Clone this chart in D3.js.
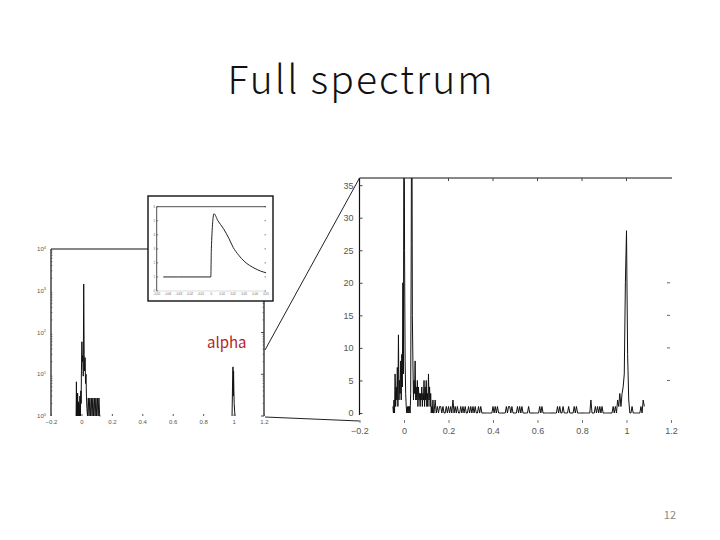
<!DOCTYPE html>
<html><head><meta charset="utf-8">
<script src="https://cdn.jsdelivr.net/npm/d3@7"></script>
<style>body{margin:0;background:#fff}svg{display:block}</style>
</head><body><svg id="c" width="720" height="540"></svg>
<script>
// ---------- data ----------
const titleText = "Full spectrum";
const pageNumber = "12";
const annotation = "alpha";

// right panel: linear magnitude spectrum
const specFreq = [-0.05,-0.0475,-0.045,-0.0425,-0.04,-0.0375,-0.035,-0.0325,-0.03,-0.0275,
-0.025,-0.0225,-0.02,-0.0175,-0.015,-0.0125,-0.01,-0.0075,-0.005,-0.0025,
0,0.0025,0.005,0.0075,0.01,0.0125,0.015,0.0175,0.02,0.0225,0.025,0.0275,0.03,0.0325,0.035,0.0375,
0.04,0.0425,0.045,0.0475,0.05,0.0525,0.055,0.0575,0.06,0.0625,0.065,0.0675,0.07,0.0725,0.075,0.0775,
0.08,0.0825,0.085,0.0875,0.09,0.0925,0.095,0.0975,0.1,0.1025,0.105,0.1075,0.11,0.1125,0.115,0.1175,
0.12,0.1225,0.125,0.1275,0.13,0.1325,
0.135,0.14,0.145,0.15,0.155,0.16,0.165,0.17,0.175,0.18,0.185,0.19,0.195,
0.2,0.205,0.21,0.215,0.22,0.225,0.23,0.235,0.24,0.245,0.25,0.255,0.26,0.265,0.27,0.275,0.28,0.285,0.29,0.295,
0.3,0.305,0.31,0.315,0.32,0.325,0.33,0.335,0.34,0.345,0.35,0.355,0.36,0.365,0.37,0.375,0.38,0.385,0.39,0.395,
0.4,0.405,0.41,0.415,0.42,0.425,0.43,0.435,0.44,0.445,0.45,0.455,0.46,0.465,0.47,0.475,0.48,0.485,0.49,0.495,
0.5,0.505,0.51,0.515,0.52,0.525,0.53,0.535,0.54,0.545,0.55,0.555,0.56,0.565,0.57,0.575,0.58,0.585,0.59,0.595,
0.6,0.605,0.61,0.615,0.62,0.625,0.63,0.635,0.64,0.645,0.65,0.655,0.66,0.665,0.67,0.675,0.68,0.685,0.69,0.695,
0.7,0.705,0.71,0.715,0.72,0.725,0.73,0.735,0.74,0.745,0.75,0.755,0.76,0.765,0.77,0.775,0.78,0.785,0.79,0.795,
0.8,0.805,0.81,0.815,0.82,0.825,0.83,0.835,0.84,0.845,0.85,0.855,0.86,0.865,0.87,0.875,0.88,0.885,0.89,0.895,
0.9,0.905,0.91,0.915,0.92,0.925,0.93,0.935,0.94,0.945,0.95,0.955,0.96,0.965,0.97,0.975,0.98,0.985,0.99,0.995,
1,1.005,1.01,1.015,1.02,1.025,1.03,1.035,1.04,1.045,1.05,1.055,1.06,1.065,1.07,1.075,1.08];
const specMag = [1,0,2,0,6,1,4,2,7,1,
12,2,5,3,8,2,9,4,20,6,
60,25,8,3,1,0,1,0,1,0,1,0,3,26,60,15,
8,2,5,3,8,2,4,2,5,1,4,2,3,1,3,2,
4,1,3,2,5,1,4,2,5,1,3,1,6,2,4,1,
3,0,1,0,2,0,
0,2,0,1,0,1,1,0,1,0,0,1,0,
1,0,1,0,2,0,1,0,1,0,0,1,0,1,0,1,0,0,1,0,
1,0,1,0,1,0,0,1,0,1,0,0,0,0,0,0,0,0,0,0,
1,0,1,0,1,0,0,0,0,0,0,0,1,0,1,1,0,1,0,0,
0,0,1,0,1,0,1,0,0,0,0,0,1,0,0,0,0,0,0,0,
0,0,1,0,1,0,0,0,0,0,0,0,0,0,0,0,0,0,1,0,
1,0,0,1,0,0,0,0,1,0,0,0,0,1,0,1,0,0,0,0,
0,0,0,0,0,0,0,0,2,0,0,0,1,0,1,0,1,0,1,0,
0,0,0,0,0,0,0,0,1,0,1,0,2,1,3,1,3,4,6,20,
28,9,2,0,0,1,0,0,0,0,0,0,0,1,0,2,1];
const rightYTicks = [0,5,10,15,20,25,30,35];
const xTicks = [-0.2,0,0.2,0.4,0.6,0.8,1,1.2];

// left panel: log magnitude (null = below axis / not drawn)
const logFreq = [-0.035,-0.033,-0.031,-0.029,-0.027,-0.025,-0.023,-0.021,-0.019,-0.016,-0.013,-0.01,-0.007,-0.004,-0.002,
0,0.003,0.006,0.009,0.012,0.015,0.018,0.021,0.024,0.027,0.03,0.033,0.036,0.04,0.045,0.05,0.055,0.06,0.065,0.07,
0.075,0.08,0.085,0.09,0.095,0.1,0.105,0.11,0.115,0.12,0.125,0.5,
0.99,0.993,0.996,0.998,1,1.002,1.004,1.007,1.01];
const logMag = [1,6.6,1,3.5,1,3.5,1,2.2,1,2,1,3,1,4,2,
12,60,20,28,9,1450,30,12,25,6,10,3,1.5,1,2.7,1,2.7,1,2.7,1,
2.7,1,2.7,1,2.7,1,2.7,1,2.7,1,1,null,
1,5,15,3,12,4,2,1.3,1];
const logYTicks = [1,10,100,1000,10000];
const logYExp = ["0","1","2","3","4"];

// inset: transition detail
const insetFreq = [-0.044,-0.03,-0.015,-0.0005,0.0,0.0024,0.006,0.011,0.016,0.02,0.025,0.03,0.035,0.04,0.045,0.05];
const insetMag = [1,1,1,1,3,5.5,5.0,4.45,3.75,3.1,2.55,2.12,1.82,1.6,1.42,1.3];
const insetXTicks = [-0.05,-0.04,-0.03,-0.02,-0.01,0,0.01,0.02,0.03,0.04,0.05];
const insetYTicks = [0,1,2,3,4,5,6];

// ---------- drawing ----------
const svg = d3.select("#c");
const tickFont = "Liberation Sans, Arial, sans-serif";
const tickCol = "#555";

const title = svg.append("text").attr("x",360).attr("y",94).attr("text-anchor","middle")
  .attr("font-family","'Noto Sans CJK KR','Open Sans',sans-serif").attr("font-weight",300)
  .attr("font-size",39).attr("fill","#111").text(titleText);
// stretch letter spacing so the title spans the reference width
{
  const w = title.node().getComputedTextLength();
  const ls = (265 - w) / (titleText.length - 1);
  title.attr("letter-spacing", ls);
  title.attr("x", 360 + ls / 2);
}

// ===== right panel =====
const xR = d3.scaleLinear().domain([-0.2,1.2]).range([359.5,671]);
const yR = d3.scaleLinear().domain([0,36.1]).range([413,178]);
const gR = svg.append("g");
gR.append("clipPath").attr("id","clipR").append("rect")
  .attr("x",xR(-0.2)).attr("y",yR(36.1)).attr("width",xR(1.2)-xR(-0.2)).attr("height",yR(0)-yR(36.1)+2);
gR.append("path").datum(specFreq.map((f,i)=>[f,specMag[i]]))
  .attr("clip-path","url(#clipR)")
  .attr("d",d3.line().x(d=>xR(d[0])).y(d=>yR(d[1])))
  .attr("fill","none").attr("stroke","#111").attr("stroke-width",1);
gR.append("line").attr("x1",xR(-0.2)).attr("x2",xR(-0.2)).attr("y1",yR(36.1)).attr("y2",yR(0)+2).attr("stroke","#111").attr("stroke-width",1.2);
gR.append("line").attr("x1",xR(-0.2)).attr("x2",xR(1.2)+1).attr("y1",yR(36.1)).attr("y2",yR(36.1)).attr("stroke","#111").attr("stroke-width",1.2);
const yAxR = d3.axisLeft(yR).tickValues(rightYTicks).tickSize(-3).tickPadding(6);
const gya = gR.append("g").attr("transform",`translate(${xR(-0.2)},0)`).call(yAxR);
gya.select(".domain").remove();
gya.selectAll("line").attr("stroke","#444");
gya.selectAll("text").attr("font-family",tickFont).attr("font-size",9).attr("fill",tickCol);
gR.selectAll(".rt").data(rightYTicks.filter(v=>v>0 && v<=20)).enter().append("line")
  .attr("x1",xR(1.2)-4).attr("x2",xR(1.2)-1).attr("y1",d=>yR(d)).attr("y2",d=>yR(d))
  .attr("stroke","#666");
const xAxR = d3.axisBottom(xR).tickValues(xTicks).tickSize(3).tickPadding(5).tickFormat(d3.format("~g"));
const gxa = gR.append("g").attr("transform",`translate(0,${yR(0)+7})`).call(xAxR);
gxa.select(".domain").remove();
gxa.selectAll("line").attr("stroke","#777");
gxa.selectAll("text").attr("font-family",tickFont).attr("font-size",9).attr("fill",tickCol);
gR.selectAll(".tt").data(xTicks.slice(1,-1)).enter().append("line")
  .attr("x1",d=>xR(d)).attr("x2",d=>xR(d)).attr("y1",yR(36.1)).attr("y2",yR(36.1)+3).attr("stroke","#444");

// ===== left panel (log) =====
const xL = d3.scaleLinear().domain([-0.2,1.2]).range([51,264]);
const yL = d3.scaleLog().domain([1,1e4]).range([416,249]);
const gL = svg.append("g");
gL.append("path").datum(logFreq.map((f,i)=>[f,logMag[i]]))
  .attr("d",d3.line().defined(d=>d[1]!==null).x(d=>xL(d[0])).y(d=>yL(d[1])))
  .attr("fill","none").attr("stroke","#111").attr("stroke-width",1);
gL.append("line").attr("x1",xL(-0.2)).attr("x2",xL(-0.2)).attr("y1",yL(1e4)).attr("y2",yL(1)).attr("stroke","#111").attr("stroke-width",1.2);
gL.append("line").attr("x1",xL(-0.2)).attr("x2",xL(1.2)).attr("y1",yL(1e4)).attr("y2",yL(1e4)).attr("stroke","#111").attr("stroke-width",1.2);
gL.append("line").attr("x1",xL(1.2)).attr("x2",xL(1.2)).attr("y1",yL(1e4)).attr("y2",yL(1)).attr("stroke","#111").attr("stroke-width",1.2);
const minor = [];
for (let e=0;e<4;e++) for (let m=2;m<10;m++) minor.push(m*Math.pow(10,e));
gL.selectAll(".mnl").data(minor).enter().append("line")
  .attr("x1",xL(-0.2)).attr("x2",xL(-0.2)+1.5).attr("y1",d=>yL(d)).attr("y2",d=>yL(d)).attr("stroke","#444").attr("stroke-width",0.6);
gL.selectAll(".mnr").data(minor).enter().append("line")
  .attr("x1",xL(1.2)-1.5).attr("x2",xL(1.2)).attr("y1",d=>yL(d)).attr("y2",d=>yL(d)).attr("stroke","#444").attr("stroke-width",0.6);
gL.selectAll(".mjr").data(logYTicks).enter().append("line")
  .attr("x1",xL(1.2)-3).attr("x2",xL(1.2)).attr("y1",d=>yL(d)).attr("y2",d=>yL(d)).attr("stroke","#444");
const ylab = gL.selectAll(".yl").data(logYTicks).enter().append("text")
  .attr("x",xL(-0.2)-5).attr("y",d=>yL(d)+2).attr("text-anchor","end")
  .attr("font-family",tickFont).attr("font-size",6).attr("fill",tickCol);
ylab.append("tspan").text("10");
ylab.append("tspan").attr("dy",-2.5).attr("font-size",4).text((d,i)=>logYExp[i]);
const xAxL = d3.axisBottom(xL).tickValues(xTicks).tickSize(-2).tickPadding(4).tickFormat(d3.format("~g"));
const gxl = gL.append("g").attr("transform",`translate(0,${yL(1)})`).call(xAxL);
gxl.select(".domain").remove();
gxl.selectAll("line").attr("stroke","#555");
gxl.selectAll("text").attr("font-family",tickFont).attr("font-size",6).attr("fill",tickCol);

// zoom connector lines
svg.append("line").attr("x1",xL(1.2)+1).attr("y1",350).attr("x2",xR(-0.2)).attr("y2",yR(36.1)).attr("stroke","#222").attr("stroke-width",1);
svg.append("line").attr("x1",xL(1.2)+1).attr("y1",yL(1)+1).attr("x2",xR(-0.2)).attr("y2",yR(0)+8).attr("stroke","#222").attr("stroke-width",1);

// ===== inset =====
const gI = svg.append("g");
gI.append("rect").attr("x",148).attr("y",196).attr("width",125).attr("height",105)
  .attr("fill","#fff").attr("stroke","#111").attr("stroke-width",1.4);
const xI = d3.scaleLinear().domain([-0.05,0.05]).range([156.7,266]);
const yI = d3.scaleLinear().domain([0,6]).range([291,206.7]);
gI.append("line").attr("x1",xI(-0.05)).attr("x2",xI(-0.05)).attr("y1",yI(6)).attr("y2",yI(0)).attr("stroke","#222").attr("stroke-width",0.8);
gI.append("line").attr("x1",xI(-0.05)).attr("x2",xI(0.05)).attr("y1",yI(6)).attr("y2",yI(6)).attr("stroke","#222").attr("stroke-width",0.8);
gI.append("line").attr("x1",xI(-0.05)).attr("x2",xI(0.05)).attr("y1",yI(0)).attr("y2",yI(0)).attr("stroke","#bbb").attr("stroke-width",0.5);
gI.selectAll(".iy").data(insetYTicks).enter().append("line")
  .attr("x1",xI(-0.05)).attr("x2",xI(-0.05)+1.5).attr("y1",d=>yI(d)).attr("y2",d=>yI(d)).attr("stroke","#333").attr("stroke-width",0.6);
gI.selectAll(".iyr").data(insetYTicks).enter().append("line")
  .attr("x1",xI(0.05)-1.5).attr("x2",xI(0.05)).attr("y1",d=>yI(d)).attr("y2",d=>yI(d)).attr("stroke","#333").attr("stroke-width",0.6);
gI.selectAll(".iyl").data(insetYTicks).enter().append("text")
  .attr("x",xI(-0.05)-1.5).attr("y",d=>yI(d)+1).attr("text-anchor","end")
  .attr("font-family",tickFont).attr("font-size",3).attr("fill","#666").text(d=>d);
gI.selectAll(".ixl").data(insetXTicks).enter().append("text")
  .attr("x",d=>xI(d)).attr("y",yI(0)+4).attr("text-anchor","middle")
  .attr("font-family",tickFont).attr("font-size",2.8).attr("fill","#666").text(d=>d3.format("~g")(d));
gI.append("path").datum(insetFreq.map((f,i)=>[f,insetMag[i]]))
  .attr("d",d3.line().curve(d3.curveMonotoneX).x(d=>xI(d[0])).y(d=>yI(d[1])))
  .attr("fill","none").attr("stroke","#222").attr("stroke-width",1);

// annotation + page number
svg.append("text").attr("x",207).attr("y",348).attr("font-family","'Noto Sans CJK KR','Noto Sans',sans-serif")
  .attr("font-size",15).attr("fill","#b0252a").text(annotation);
svg.append("text").attr("x",676).attr("y",519).attr("text-anchor","end").attr("font-family","'Noto Sans CJK KR','Noto Sans',sans-serif")
  .attr("font-size",11).attr("fill","#888").text(pageNumber);
</script></body></html>
